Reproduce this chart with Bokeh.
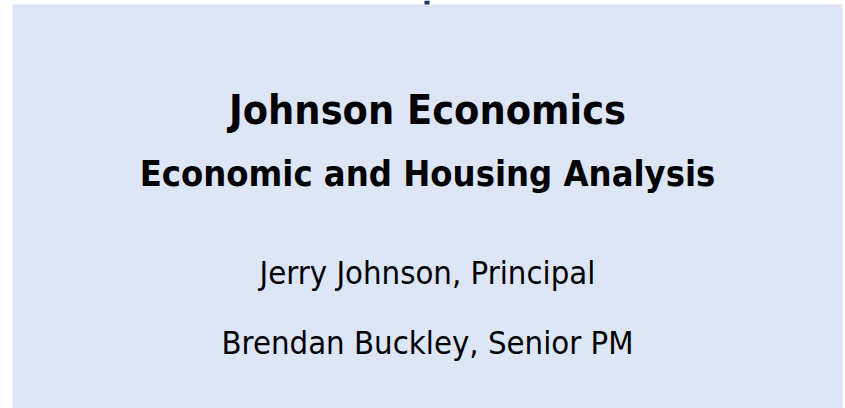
from bokeh.plotting import figure
from bokeh.models import Range1d, ColumnDataSource
from bokeh.core.properties import value
from bokeh.embed import file_html
from bokeh.resources import INLINE

# Text content
lines = ["Johnson Economics", "Economic and Housing Analysis",
         "Jerry Johnson, Principal", "Brendan Buckley, Senior PM"]
baselines = [109, 173, 272, 342]
styles = ["bold", "bold", "normal", "normal"]
sizes = ["41px", "36px", "32.6px", "32.6px"]

FONT = "DejaVu Sans Condensed, Lato, sans-serif"

p = figure(width=845, height=408, output_backend="svg", toolbar_location=None,
           x_range=Range1d(0, 845), y_range=Range1d(408, 0),
           min_border=0, background_fill_color="white", border_fill_color="white")
p.axis.visible = False
p.grid.visible = False
p.outline_line_color = None

# light blue panel
p.quad(left=[12], right=[842], top=[4], bottom=[410], fill_color="#dce6f7", line_color=None)
# small navy tab at top
p.quad(left=[424], right=[429], top=[0], bottom=[4], fill_color="#17375e", line_color=None)

src = ColumnDataSource(dict(x=[427] * len(lines), y=baselines, text=lines,
                            style=styles, size=sizes))
p.text(x="x", y="y", text="text", source=src, text_align="center",
       text_baseline="alphabetic", text_font=value(FONT),
       text_font_style="style", text_font_size="size", text_color="black")

open("out.html", "w").write(file_html(p, INLINE))
